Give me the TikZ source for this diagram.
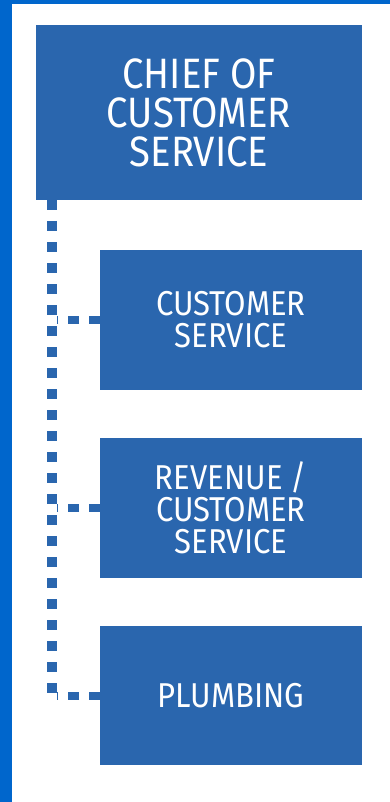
\documentclass[tikz,border=0pt]{standalone}
\usepackage{fontspec}
\newfontfamily\condfont[FakeStretch=0.9]{Fira Sans}
\definecolor{boxblue}{HTML}{2A66AE}
\definecolor{edgeblue}{HTML}{0066CC}
\tikzset{
  orgbox/.style={fill=boxblue, draw=none, text=white, inner sep=0pt, outer sep=0pt,
    anchor=north west, align=center, minimum width=262pt, minimum height=140pt},
  bigtext/.style={font=\condfont\fontsize{42.5}{39}\selectfont},
  smalltext/.style={font=\condfont\fontsize{34.5}{32}\selectfont},
  spine/.style={draw=boxblue, line width=10pt, dash pattern=on 10pt off 11pt},
  branch/.style={draw=boxblue, line width=8pt, dash pattern=on 11pt off 10pt}
}
\begin{document}
\begin{tikzpicture}[x=1pt,y=-1pt]
\useasboundingbox (0,0) rectangle (390,802);
\fill[white] (0,0) rectangle (390,802);
\fill[edgeblue] (0,0) rectangle (12,802);
\fill[edgeblue] (0,0) rectangle (390,4);
\node[orgbox, bigtext, minimum width=326pt, minimum height=175pt] (chief) at (36,25) {CHIEF OF\\CUSTOMER\\SERVICE};
\node[orgbox, smalltext] (cs) at (100,250) {CUSTOMER\\SERVICE};
\node[orgbox, smalltext] (rev) at (100,438) {REVENUE /\\CUSTOMER\\SERVICE};
\node[orgbox, smalltext, minimum height=139pt] (plumb) at (100,626) {PLUMBING};
\coordinate (top) at ([xshift=16pt]chief.south west);
\coordinate (bottom) at ([yshift=-4pt]top |- plumb.west);
\draw[spine] (top) -- (bottom);
\draw[branch] (cs.west) -- ([xshift=5pt]cs.west -| top);
\draw[branch] (rev.west) -- ([xshift=5pt]rev.west -| top);
\draw[branch] (plumb.west) -- ([xshift=5pt]plumb.west -| top);
\end{tikzpicture}
\end{document}
